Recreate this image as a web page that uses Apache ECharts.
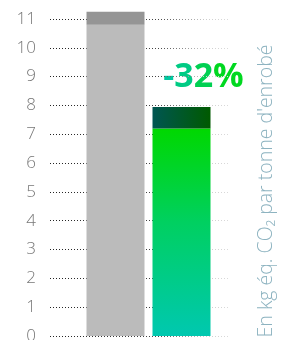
<!DOCTYPE html>
<html lang="fr">
<head>
    <meta charset="UTF-8">
    <title>Emissions CO2 par tonne d'enrobé</title>
    <script src="https://cdn.jsdelivr.net/npm/echarts@6/dist/echarts.min.js"></script>
    <style>
        html, body { margin: 0; padding: 0; background: #fff; overflow: hidden; }
        #container { width: 281px; height: 340px; }
    </style>
</head>
<body>
<div id="container"></div>
<script>
    // donnees
    var categories = ['Enrobé classique', 'Enrobé bas carbone'];
    var baseValues = [10.8, 7.2];     // partie principale de la barre
    var topValues = [0.45, 0.75];     // partie haute (foncee)
    var yTicks = [0, 12, 1];          // min, max, pas (12 hors cadre)
    var reduction = ['-', '3', '2', '%'];
    var reductionColors = ['#00c8a0', '#00cb84', '#00d052', '#00d820'];
    var unitLabel = 'En kg éq. CO₂ par tonne d\'enrobé';

    var myChart = echarts.init(document.getElementById('container'));

    var baseColors = [
        '#bbbbbb',
        { type: 'linear', x: 0, y: 0, x2: 0, y2: 1, colorStops: [
            { offset: 0, color: '#00d800' },
            { offset: 0.45, color: '#00d060' },
            { offset: 1, color: '#00c8b0' }
        ] }
    ];
    var topColors = [
        '#959595',
        { type: 'linear', x: 0, y: 0, x2: 1, y2: 0, colorStops: [
            { offset: 0, color: '#005652' },
            { offset: 1, color: '#005a00' }
        ] }
    ];

    // texte -32% : une couleur par caractere pour imiter le degrade
    var rich = {};
    var txt = '';
    reduction.forEach(function (c, i) {
        rich['c' + i] = {
            fill: reductionColors[i],
            fontSize: 34,
            fontWeight: 'bold',
            fontFamily: 'Open Sans'
        };
        txt += '{c' + i + '|' + c + '}';
    });

    // grille : 11 a y=19, 0 a y=336 -> 12 a y=-9.8
    var gridBase = { top: -9.8, bottom: 4, outerBoundsMode: 'none', containLabel: false };
    var option = {
        animation: false,
        grid: [
            Object.assign({ left: 50, right: 51 }, gridBase),
            Object.assign({ left: 82.5, right: 66.5 }, gridBase)
        ],
        xAxis: [
            { type: 'category', gridIndex: 0, data: categories, show: false },
            { type: 'category', gridIndex: 1, data: categories, show: false }
        ],
        yAxis: [
            {
                type: 'value', gridIndex: 0,
                min: yTicks[0], max: yTicks[1], interval: yTicks[2],
                axisLine: { show: false },
                axisTick: { show: false },
                axisLabel: {
                    margin: 14,
                    color: '#777',
                    fontSize: 17,
                    fontWeight: 300,
                    fontFamily: 'Open Sans'
                },
                splitLine: {
                    show: true,
                    lineStyle: {
                        width: 1,
                        type: [1, 2],
                        color: { type: 'linear', x: 0, y: 0, x2: 1, y2: 0, colorStops: [
                            { offset: 0, color: '#222' },
                            { offset: 0.6, color: '#444' },
                            { offset: 0.85, color: '#ccc' },
                            { offset: 1, color: '#ddd' }
                        ] }
                    }
                }
            },
            {
                type: 'value', gridIndex: 1,
                min: yTicks[0], max: yTicks[1], interval: yTicks[2],
                show: false
            }
        ],
        series: [
            {
                type: 'bar', xAxisIndex: 1, yAxisIndex: 1, stack: 'total',
                barWidth: 58,
                data: baseValues.map(function (v, i) {
                    return { value: v, itemStyle: { color: baseColors[i] } };
                })
            },
            {
                type: 'bar', xAxisIndex: 1, yAxisIndex: 1, stack: 'total',
                barWidth: 58,
                data: topValues.map(function (v, i) {
                    return { value: v, itemStyle: { color: topColors[i] } };
                })
            }
        ],
        graphic: [
            {
                type: 'text',
                x: 203.5, y: 77,
                style: {
                    text: txt,
                    rich: rich,
                    align: 'center',
                    verticalAlign: 'middle'
                }
            },
            {
                type: 'text',
                x: 266, y: 191,
                rotation: Math.PI / 2,
                style: {
                    text: unitLabel,
                    align: 'center',
                    verticalAlign: 'middle',
                    fontSize: 19.5,
                    fontWeight: 300,
                    fontFamily: 'Open Sans',
                    fill: '#8db3c0'
                }
            }
        ]
    };

    myChart.setOption(option);
</script>
</body>
</html>
